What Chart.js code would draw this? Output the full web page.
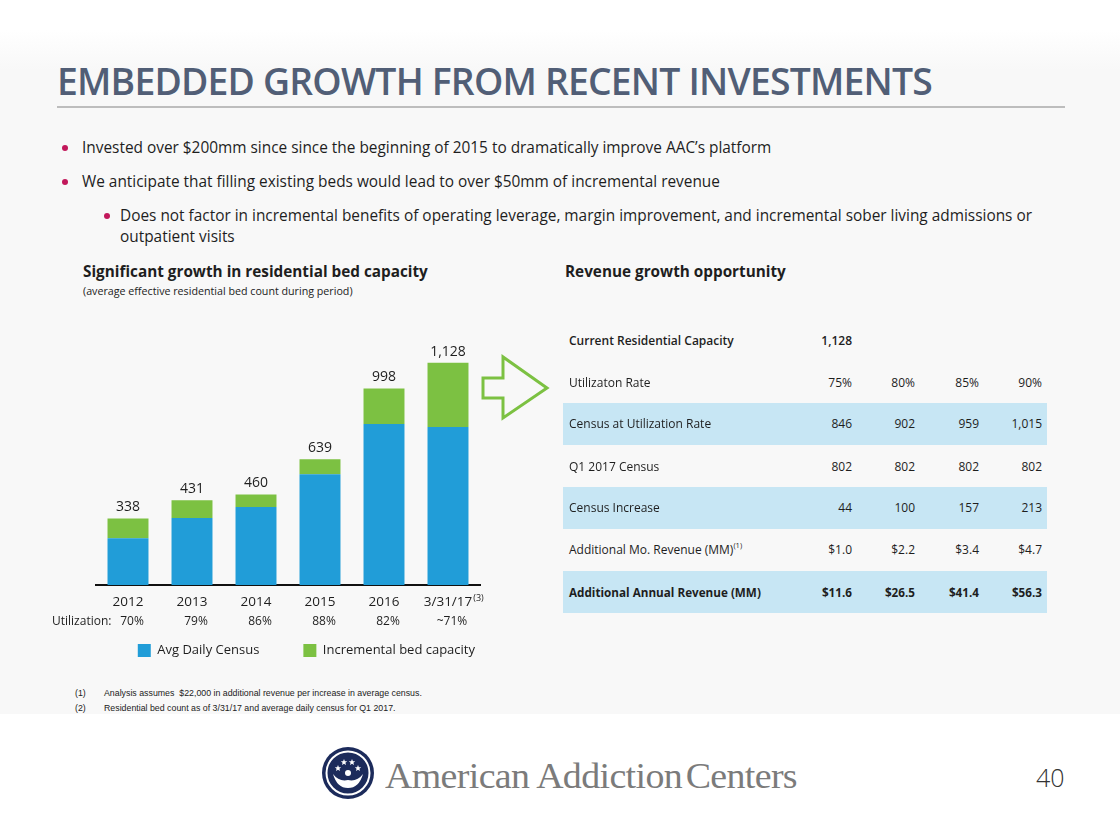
<!DOCTYPE html>
<html>
<head>
<meta charset="utf-8">
<script src="https://cdn.jsdelivr.net/npm/chart.js@4.4.0/dist/chart.umd.min.js"></script>
<style>
  html,body{margin:0;padding:0;}
  body{width:1120px;height:840px;position:relative;overflow:hidden;background:#fff;font-family:"Open Sans",sans-serif;color:#222;}
  .bg{position:absolute;left:0;top:0;width:1120px;height:714px;background:linear-gradient(#ffffff 0px,#ffffff 30px,#f8f8f8 70px,#f8f8f8 714px);}
  .abs{position:absolute;white-space:nowrap;}
  #title{left:57px;top:59px;font-size:37px;font-weight:600;color:#515e76;letter-spacing:-0.8px;transform-origin:0 0;line-height:44px;}
  #rule{left:57px;top:106px;width:1008px;height:2px;background:#bdbdbd;}
  .bul{font-size:15.4px;line-height:20px;color:#1e1e1e;}
  .dot{position:absolute;width:6px;height:6px;border-radius:50%;background:#c2185b;}
  .sub{font-size:15.3px;font-weight:700;color:#1e1e1e;}
  .small{font-size:10.7px;color:#222;}
  .band{position:absolute;left:563px;width:484px;height:42px;background:#c7e6f4;}
  .cell{position:absolute;font-size:12px;color:#1e1e1e;line-height:18px;}
  .fn{font-family:"Liberation Sans",Arial,sans-serif;font-size:8.8px;color:#222;}
  #logoText{left:385px;top:758px;font-family:"Liberation Serif","Times New Roman",serif;font-size:36px;line-height:36px;color:#7b7b7b;transform-origin:0 0;letter-spacing:-0.6px;}
  #pg{left:1036px;top:760px;font-size:25px;font-weight:300;color:#333;}
</style>
</head>
<body>
<div class="bg"></div>
<div class="abs" id="title">EMBEDDED GROWTH FROM RECENT INVESTMENTS</div>
<div class="abs" id="rule"></div>

<div class="dot" style="left:62px;top:145px"></div>
<div class="abs bul" style="left:82px;top:138px">Invested over $200mm since since the beginning of 2015 to dramatically improve AAC’s platform</div>
<div class="dot" style="left:62px;top:179px"></div>
<div class="abs bul" style="left:82px;top:172px">We anticipate that filling existing beds would lead to over $50mm of incremental revenue</div>
<div class="dot" style="left:104px;top:213px"></div>
<div class="abs bul" style="left:120px;top:206px">Does not factor in incremental benefits of operating leverage, margin improvement, and incremental sober living admissions or</div>
<div class="abs bul" style="left:120px;top:227px">outpatient visits</div>

<div class="abs sub" style="left:83px;top:261px">Significant growth in residential bed capacity</div>
<div class="abs small" style="left:83px;top:284px">(average effective residential bed count during period)</div>
<div class="abs sub" style="left:565px;top:261px">Revenue growth opportunity</div>

<canvas id="c" width="470" height="350" style="position:absolute;left:40px;top:317px;"></canvas>

<svg style="position:absolute;left:478px;top:352px" width="75" height="72">
  <polygon points="5,26 25,26 25,5 69,36 25,66 25,46 5,46" fill="none" stroke="#7cc142" stroke-width="3" stroke-linejoin="miter"/>
</svg>

<div id="table"></div>

<div class="abs fn" style="left:75px;top:688px">(1)</div>
<div class="abs fn" style="left:104px;top:688px">Analysis assumes&nbsp; $22,000 in additional revenue per increase in average census.</div>
<div class="abs fn" style="left:75px;top:703px">(2)</div>
<div class="abs fn" style="left:104px;top:703px">Residential bed count as of 3/31/17 and average daily census for Q1 2017.</div>

<svg style="position:absolute;left:321px;top:746px" width="54" height="54" viewBox="0 0 54 54">
  <circle cx="27" cy="27" r="26" fill="#1c2b5b"/>
  <circle cx="27" cy="27" r="21.5" fill="none" stroke="#ffffff" stroke-width="2"/>
  <g fill="#ffffff">
    <polygon points="17,19 17.9,21.2 20.2,21.3 18.4,22.7 19,25 17,23.7 15,25 15.6,22.7 13.8,21.3 16.1,21.2"/>
    <polygon points="23,13 23.9,15.2 26.2,15.3 24.4,16.7 25,19 23,17.7 21,19 21.6,16.7 19.8,15.3 22.1,15.2"/>
    <polygon points="31,13 31.9,15.2 34.2,15.3 32.4,16.7 33,19 31,17.7 29,19 29.6,16.7 27.8,15.3 30.1,15.2"/>
    <polygon points="37,19 37.9,21.2 40.2,21.3 38.4,22.7 39,25 37,23.7 35,25 35.6,22.7 33.8,21.3 36.1,21.2"/>
    <circle cx="27" cy="27" r="3"/>
    <path d="M12,28 Q16,42 27,42 Q38,42 42,28 Q36,36 27,34 Q18,36 12,28 Z"/>
  </g>
</svg>
<div class="abs" id="logoText">American Addiction<span style="margin-left:-5px"> </span>Centers</div>
<div class="abs" id="pg">40</div>

<script>
// ---- Bar chart data ----
const categories = ['2012', '2013', '2014', '2015', '2016', '3/31/17'];
const utilization = ['70%', '79%', '86%', '88%', '82%', '~71%'];
const totalBedLabels = ['338', '431', '460', '639', '998', '1,128'];
const avgDailyCensus = [237, 340, 396, 562, 818, 802];
const incrementalCapacity = [101, 91, 64, 77, 180, 326];
const seriesNames = ['Avg Daily Census', 'Incremental bed capacity'];

// ---- Table data ----
const tableRowLabels = ['Current Residential Capacity', 'Utilizaton Rate', 'Census at Utilization Rate', 'Q1 2017 Census', 'Census Increase', 'Additional Mo. Revenue (MM)', 'Additional Annual Revenue (MM)'];
const currentCapacity = ['1,128'];
const utilizationRates = ['75%', '80%', '85%', '90%'];
const censusAtRate = ['846', '902', '959', '1,015'];
const q1Census = ['802', '802', '802', '802'];
const censusIncrease = ['44', '100', '157', '213'];
const monthlyRevenue = ['$1.0', '$2.2', '$3.4', '$4.7'];
const annualRevenue = ['$11.6', '$26.5', '$41.4', '$56.3'];

// ---- build table ----
(function(){
  const rows = [currentCapacity, utilizationRates, censusAtRate, q1Census, censusIncrease, monthlyRevenue, annualRevenue];
  const rowCenters = [341, 383, 424, 467, 508, 550, 592];
  const shaded = [2, 4, 6];
  const bold = {0: 600, 6: 700};
  const colRight = [852, 915, 979, 1042];
  let html = '';
  shaded.forEach(r => { html += `<div class="band" style="top:${rowCenters[r]-21}px"></div>`; });
  rows.forEach((vals, r) => {
    const fw = bold[r] || 400;
    const fs = r === 6 ? 'font-size:11.7px;' : '';
    let lab = tableRowLabels[r];
    if (r === 5) lab += '<sup style="font-size:7.5px;vertical-align:6px;line-height:0">(1)</sup>';
    html += `<div class="cell abs" style="left:569px;top:${rowCenters[r]-9}px;font-weight:${fw};${fs}">${lab}</div>`;
    vals.forEach((v, c) => {
      html += `<div class="cell abs" style="right:${1120-colRight[c]}px;top:${rowCenters[r]-9}px;font-weight:${fw};${fs}">${v}</div>`;
    });
  });
  document.getElementById('table').innerHTML = html;
})();

// fit title & logo text widths
(function(){
  const t = document.getElementById('title');
  t.style.transform = `scaleX(${875 / t.getBoundingClientRect().width})`;
  const l = document.getElementById('logoText');
  l.style.transform = `scaleX(${412 / l.getBoundingClientRect().width})`;
})();

// ---- chart ----
const FONT = '"Open Sans", sans-serif';
const extrasPlugin = {
  id: 'extras',
  afterDatasetsDraw(chart) {
    const ctx = chart.ctx;
    const meta = chart.getDatasetMeta(1);
    ctx.save();
    ctx.fillStyle = '#1e1e1e';
    ctx.font = `14px ${FONT}`;
    ctx.textAlign = 'center';
    ctx.textBaseline = 'middle';
    meta.data.forEach((bar, i) => {
      ctx.fillText(totalBedLabels[i], bar.x, bar.y - 11);
    });
    ctx.restore();
  },
  afterDraw(chart) {
    const ctx = chart.ctx;
    const xs = chart.scales.x;
    const base = chart.chartArea.bottom;
    ctx.save();
    ctx.fillStyle = '#1e1e1e';
    ctx.textBaseline = 'middle';
    ctx.font = `12px ${FONT}`;
    ctx.textAlign = 'left';
    ctx.fillText('Utilization:', 12, base + 37);
    ctx.textAlign = 'center';
    utilization.forEach((u, i) => {
      ctx.fillText(u, xs.getPixelForValue(i) + 4, base + 37);
    });
    ctx.font = `13.5px ${FONT}`;
    const w = ctx.measureText(categories[5]).width;
    ctx.font = `9px ${FONT}`;
    ctx.textAlign = 'left';
    ctx.fillText('(3)', xs.getPixelForValue(5) + w / 2 + 1, base + 13);
    ctx.restore();
  }
};

new Chart(document.getElementById('c'), {
  type: 'bar',
  data: {
    labels: categories,
    datasets: [
      { label: seriesNames[0], data: avgDailyCensus, backgroundColor: '#219dd8', borderWidth: 0 },
      { label: seriesNames[1], data: incrementalCapacity, backgroundColor: '#7cc142', borderWidth: 0 }
    ]
  },
  options: {
    responsive: false,
    animation: false,
    events: [],
    layout: { padding: { left: 56, right: 30, top: 12, bottom: 0 } },
    datasets: { bar: { categoryPercentage: 1, barPercentage: 0.64 } },
    plugins: {
      tooltip: { enabled: false },
      legend: {
        position: 'bottom',
        align: 'end',
        labels: {
          boxWidth: 13, boxHeight: 13, padding: 5,
          color: '#1e1e1e',
          font: { family: FONT, size: 13 },
          generateLabels(chart) {
            const items = Chart.defaults.plugins.legend.labels.generateLabels(chart);
            items[0].text = items[0].text + '\u2003\u2003\u2003';
            items.forEach(it => { it.lineWidth = 0; });
            return items;
          }
        }
      }
    },
    scales: {
      x: {
        stacked: true,
        grid: { display: false, drawTicks: false },
        border: { display: true, color: '#111', width: 2 },
        title: { display: true, text: '', font: { family: FONT, size: 12, lineHeight: '20px' }, padding: 0 },
        ticks: { padding: 7, color: '#1e1e1e', font: { family: FONT, size: 13.5, lineHeight: '20px' }, maxRotation: 0, autoSkip: false }
      },
      y: { stacked: true, display: false, min: 0, max: 1300 }
    }
  },
  plugins: [extrasPlugin]
});
</script>
</body>
</html>
